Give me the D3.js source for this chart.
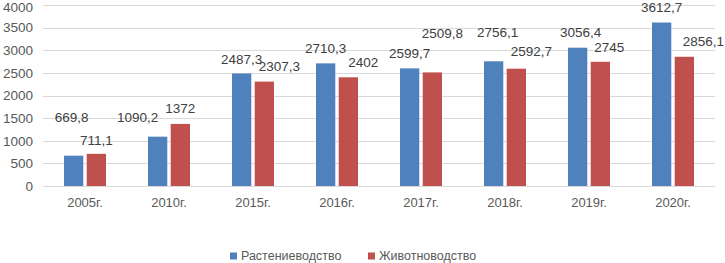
<!DOCTYPE html>
<html>
<head>
<meta charset="utf-8">
<script src="https://cdn.jsdelivr.net/npm/d3@7"></script>
<style>
  body { margin: 0; background: #fff; }
  text { font-family: "Liberation Sans", Arial, sans-serif; }
</style>
</head>
<body>
<div id="drawing_region"></div>
<script>
// годы и значения (млрд руб.)
const years = ["2005г.", "2010г.", "2015г.", "2016г.", "2017г.", "2018г.", "2019г.", "2020г."];
const seriesNames = ["Растениеводство", "Животноводство"];
const crops = [669.8, 1090.2, 2487.3, 2710.3, 2599.7, 2756.1, 3056.4, 3612.7];
const livestock = [711.1, 1372, 2307.3, 2402, 2509.8, 2592.7, 2745, 2856.1];
const yTicks = [0, 500, 1000, 1500, 2000, 2500, 3000, 3500, 4000];

// ручные сдвиги подписей, как в исходнике [dx, dy]
const cropNudge = [[-2, -23], [-20, -4], [0, 1], [0, 0], [0, 0], [4, -14], [3, 0], [0, 0]];
const livestockNudge = [[0, 1], [0, -1], [15, 0], [15, 0], [10, -24], [15, -2], [9, 0], [19, 0]];

const colors = ["#4f81bd", "#c0504d"];

const config = {
    parent: '#drawing_region',
    width: 725,
    height: 263,
    plotLeft: 43,
    plotRight: 715,
    plotTop: 5,
    plotBottom: 186,
};

const svg = d3.select(config.parent)
    .append('svg')
    .attr('width', config.width)
    .attr('height', config.height);

const x0 = d3.scaleBand()
    .domain(years)
    .range([config.plotLeft, config.plotRight])
    .paddingInner(0.5)
    .paddingOuter(0.25);

const x1 = d3.scaleBand()
    .domain(seriesNames)
    .range([0, x0.bandwidth()])
    .paddingInner(0.15);

const y = d3.scaleLinear()
    .domain([0, 4000])
    .range([config.plotBottom, config.plotTop]);

// сетка
svg.append('g')
    .selectAll('line')
    .data(yTicks)
    .enter()
    .append('line')
    .attr('x1', config.plotLeft)
    .attr('x2', config.plotRight)
    .attr('y1', d => Math.round(y(d)) + 0.5)
    .attr('y2', d => Math.round(y(d)) + 0.5)
    .attr('stroke', '#d9d9d9')
    .attr('stroke-width', 1);

// ось Y
const yAxis = svg.append('g')
    .attr('transform', `translate(${33},0)`)
    .call(d3.axisLeft(y).tickValues(yTicks).tickFormat(d3.format('d')).tickSize(0).tickPadding(0));
yAxis.select('.domain').remove();
yAxis.selectAll('text')
    .attr('fill', '#595959')
    .style('font-size', '13.5px');
yAxis.selectAll('.tick').filter(d => d === 4000).select('text').attr('dy', '0.45em');

// ось X
const xAxis = svg.append('g')
    .attr('transform', `translate(0,${config.plotBottom})`)
    .call(d3.axisBottom(x0).tickSize(0).tickPadding(12));
xAxis.select('.domain').remove();
xAxis.selectAll('text')
    .attr('fill', '#595959')
    .style('font-size', '13px');

const table = years.map((yr, i) => ({
    year: yr,
    values: [
        { name: seriesNames[0], value: crops[i], nudge: cropNudge[i], c: colors[0] },
        { name: seriesNames[1], value: livestock[i], nudge: livestockNudge[i], c: colors[1] },
    ]
}));

const groups = svg.selectAll('g.group')
    .data(table)
    .enter()
    .append('g')
    .attr('class', 'group')
    .attr('transform', d => `translate(${x0(d.year)},0)`);

groups.selectAll('rect')
    .data(d => d.values)
    .enter()
    .append('rect')
    .attr('x', d => x1(d.name))
    .attr('y', d => y(d.value))
    .attr('width', x1.bandwidth())
    .attr('height', d => y(0) - y(d.value))
    .attr('fill', d => d.c);

groups.selectAll('text.lbl')
    .data(d => d.values)
    .enter()
    .append('text')
    .attr('class', 'lbl')
    .attr('x', d => x1(d.name) + x1.bandwidth() / 2 + d.nudge[0])
    .attr('y', d => y(d.value) - 15 + d.nudge[1])
    .attr('dy', '0.35em')
    .attr('text-anchor', 'middle')
    .attr('fill', '#404040')
    .style('font-size', '13.5px')
    .text(d => String(d.value).replace('.', ','));

// легенда
const legendX = [230, 368];
const legend = svg.selectAll('g.legend')
    .data(seriesNames)
    .enter()
    .append('g')
    .attr('class', 'legend')
    .attr('transform', (d, i) => `translate(${legendX[i]},256)`);

legend.append('rect')
    .attr('x', 0)
    .attr('y', -3.5)
    .attr('width', 7)
    .attr('height', 7)
    .attr('fill', (d, i) => colors[i]);

legend.append('text')
    .attr('x', 11)
    .attr('y', 0)
    .attr('dy', '0.35em')
    .attr('fill', '#595959')
    .style('font-size', '12.5px')
    .text(d => d);
</script>
</body>
</html>
